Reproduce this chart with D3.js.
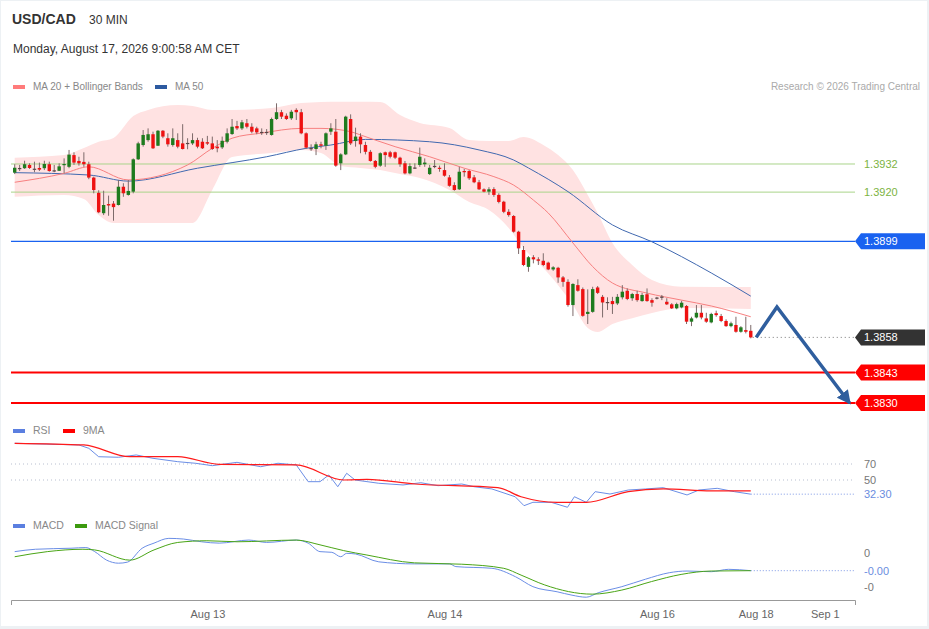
<!DOCTYPE html>
<html>
<head>
<meta charset="utf-8">
<script src="https://cdn.jsdelivr.net/npm/d3@7"></script>
<style>
  html, body { margin: 0; padding: 0; background: #edf1f4; }
  svg { display: block; font-family: "Liberation Sans", Arial, sans-serif; }
</style>
</head>
<body>
<svg id="chart" width="929" height="629"></svg>
<script>
// ---- data ----
var symbol = "USD/CAD", period = "30 MIN";
var stamp = "Monday, August 17, 2026 9:00:58 AM CET";
var credit = "Research \u00a9 2026 Trading Central";

// 30 min candles: [open, high, low, close]
var candles = [
  [1.39283,1.39319,1.39277,1.39304],[1.39303,1.39316,1.39290,1.39301],[1.39302,1.39334,1.39299,1.39319],
  [1.39316,1.39323,1.39299,1.39303],[1.39300,1.39330,1.39285,1.39297],[1.39303,1.39326,1.39290,1.39296],
  [1.39302,1.39334,1.39294,1.39320],[1.39319,1.39330,1.39287,1.39290],[1.39293,1.39316,1.39285,1.39291],
  [1.39291,1.39323,1.39290,1.39310],[1.39316,1.39344,1.39280,1.39320],[1.39308,1.39380,1.39302,1.39360],
  [1.39358,1.39370,1.39316,1.39326],[1.39333,1.39351,1.39313,1.39323],[1.39329,1.39370,1.39308,1.39319],
  [1.39319,1.39330,1.39255,1.39262],[1.39262,1.39266,1.39195,1.39209],[1.39197,1.39208,1.39110,1.39114],
  [1.39110,1.39206,1.39102,1.39145],[1.39149,1.39185,1.39099,1.39143],[1.39151,1.39162,1.39078,1.39136],
  [1.39145,1.39252,1.39143,1.39223],[1.39223,1.39238,1.39180,1.39195],[1.39188,1.39252,1.39185,1.39205],
  [1.39202,1.39344,1.39195,1.39340],[1.39340,1.39415,1.39337,1.39408],[1.39401,1.39465,1.39394,1.39444],
  [1.39422,1.39472,1.39415,1.39447],[1.39447,1.39458,1.39384,1.39387],[1.39398,1.39465,1.39397,1.39462],
  [1.39462,1.39465,1.39430,1.39437],[1.39430,1.39451,1.39394,1.39404],[1.39401,1.39472,1.39394,1.39430],
  [1.39422,1.39451,1.39387,1.39394],[1.39408,1.39490,1.39382,1.39384],[1.39410,1.39430,1.39383,1.39407],
  [1.39408,1.39451,1.39401,1.39422],[1.39422,1.39432,1.39387,1.39394],[1.39415,1.39430,1.39384,1.39387],
  [1.39413,1.39440,1.39401,1.39407],[1.39408,1.39437,1.39380,1.39384],[1.39394,1.39422,1.39370,1.39387],
  [1.39391,1.39437,1.39384,1.39419],[1.39415,1.39472,1.39408,1.39451],[1.39448,1.39512,1.39444,1.39479],
  [1.39482,1.39504,1.39465,1.39472],[1.39472,1.39508,1.39465,1.39498],[1.39494,1.39512,1.39472,1.39479],
  [1.39479,1.39494,1.39451,1.39458],[1.39472,1.39479,1.39447,1.39455],[1.39457,1.39472,1.39444,1.39454],
  [1.39455,1.39469,1.39444,1.39457],[1.39444,1.39518,1.39441,1.39512],[1.39512,1.39579,1.39508,1.39541],
  [1.39541,1.39551,1.39512,1.39522],[1.39526,1.39536,1.39508,1.39512],[1.39515,1.39551,1.39508,1.39543],
  [1.39551,1.39558,1.39508,1.39541],[1.39541,1.39555,1.39447,1.39451],[1.39451,1.39455,1.39384,1.39390],
  [1.39388,1.39404,1.39376,1.39386],[1.39384,1.39415,1.39358,1.39404],[1.39404,1.39415,1.39387,1.39398],
  [1.39398,1.39455,1.39380,1.39451],[1.39458,1.39494,1.39444,1.39472],[1.39458,1.39512,1.39308,1.39313],
  [1.39323,1.39366,1.39294,1.39361],[1.39361,1.39526,1.39358,1.39522],[1.39512,1.39532,1.39401,1.39408],
  [1.39418,1.39475,1.39394,1.39437],[1.39437,1.39451,1.39366,1.39404],[1.39401,1.39415,1.39361,1.39372],
  [1.39372,1.39380,1.39330,1.39333],[1.39333,1.39337,1.39302,1.39308],[1.39313,1.39370,1.39308,1.39366],
  [1.39370,1.39373,1.39308,1.39358],[1.39370,1.39376,1.39344,1.39351],[1.39370,1.39373,1.39341,1.39347],
  [1.39347,1.39351,1.39308,1.39319],[1.39323,1.39333,1.39276,1.39280],[1.39280,1.39323,1.39276,1.39311],
  [1.39305,1.39323,1.39299,1.39303],[1.39316,1.39390,1.39308,1.39351],[1.39319,1.39344,1.39308,1.39326],
  [1.39277,1.39316,1.39273,1.39304],[1.39312,1.39337,1.39302,1.39311],[1.39304,1.39313,1.39287,1.39299],
  [1.39294,1.39323,1.39266,1.39270],[1.39263,1.39273,1.39223,1.39227],[1.39230,1.39242,1.39206,1.39209],
  [1.39212,1.39308,1.39209,1.39287],[1.39290,1.39299,1.39266,1.39285],[1.39290,1.39294,1.39252,1.39259],
  [1.39263,1.39273,1.39238,1.39242],[1.39242,1.39252,1.39209,1.39212],[1.39212,1.39216,1.39199,1.39202],
  [1.39202,1.39221,1.39188,1.39212],[1.39213,1.39221,1.39180,1.39188],[1.39188,1.39195,1.39152,1.39158],
  [1.39159,1.39163,1.39110,1.39116],[1.39116,1.39127,1.39095,1.39102],[1.39098,1.39102,1.39027,1.39031],
  [1.39031,1.39035,1.38936,1.38960],[1.38953,1.38970,1.38884,1.38889],[1.38881,1.38927,1.38860,1.38922],
  [1.38922,1.38931,1.38896,1.38913],[1.38913,1.38922,1.38889,1.38907],[1.38907,1.38939,1.38884,1.38889],
  [1.38899,1.38903,1.38867,1.38870],[1.38870,1.38884,1.38864,1.38879],[1.38877,1.38881,1.38813,1.38836],
  [1.38836,1.38842,1.38796,1.38817],[1.38817,1.38828,1.38711,1.38718],[1.38718,1.38811,1.38671,1.38808],
  [1.38803,1.38828,1.38775,1.38779],[1.38786,1.38793,1.38668,1.38672],[1.38680,1.38785,1.38637,1.38689],
  [1.38689,1.38796,1.38685,1.38786],[1.38793,1.38799,1.38765,1.38770],[1.38753,1.38761,1.38665,1.38729],
  [1.38731,1.38751,1.38697,1.38728],[1.38735,1.38753,1.38680,1.38722],[1.38725,1.38765,1.38718,1.38753],
  [1.38751,1.38803,1.38742,1.38775],[1.38779,1.38789,1.38739,1.38744],[1.38747,1.38770,1.38736,1.38765],
  [1.38765,1.38779,1.38732,1.38739],[1.38735,1.38770,1.38732,1.38761],[1.38764,1.38789,1.38732,1.38735],
  [1.38739,1.38747,1.38711,1.38728],[1.38750,1.38753,1.38742,1.38748],[1.38754,1.38761,1.38739,1.38753],
  [1.38732,1.38747,1.38718,1.38721],[1.38721,1.38726,1.38701,1.38704],[1.38704,1.38728,1.38700,1.38722],
  [1.38708,1.38736,1.38704,1.38728],[1.38714,1.38718,1.38637,1.38647],[1.38647,1.38668,1.38628,1.38661],
  [1.38665,1.38718,1.38661,1.38685],[1.38685,1.38718,1.38657,1.38665],[1.38661,1.38685,1.38642,1.38647],
  [1.38644,1.38685,1.38640,1.38680],[1.38683,1.38694,1.38668,1.38675],[1.38671,1.38680,1.38645,1.38650],
  [1.38650,1.38657,1.38625,1.38628],[1.38628,1.38647,1.38623,1.38640],[1.38633,1.38668,1.38600,1.38604],
  [1.38604,1.38628,1.38600,1.38623],[1.38611,1.38668,1.38597,1.38604],[1.38608,1.38633,1.38576,1.38580]
];

// indicator readings, [candle index, value]
var bbUpper = [[0,1.39347],[10,1.39358],[14,1.39388],[17,1.39415],[20,1.39431],[24,1.39525],[27,1.39551],
  [33,1.39572],[36,1.39568],[40,1.39551],[44,1.39551],[52,1.39559],[58,1.39580],[62,1.39585],[66,1.39586],
  [70,1.39586],[74,1.39585],[78,1.39529],[82,1.39495],[88,1.39474],[92,1.39422],[96,1.39418],[100,1.39418],
  [103,1.39435],[107,1.39401],[110,1.39358],[113,1.39294],[116,1.39188],[118,1.39111],[121,1.38983],
  [125,1.38889],[129,1.38825],[135,1.38796],[149,1.38795]];
var bbLower = [[0,1.39180],[10,1.39188],[14,1.39171],[17,1.39102],[20,1.39068],[24,1.39068],[27,1.39068],
  [33,1.39068],[36,1.39068],[40,1.39209],[44,1.39350],[52,1.39367],[58,1.39380],[62,1.39367],[66,1.39311],
  [70,1.39303],[74,1.39294],[78,1.39277],[82,1.39260],[88,1.39209],[92,1.39158],[96,1.39124],[100,1.39047],
  [103,1.38961],[107,1.38876],[110,1.38803],[113,1.38718],[116,1.38620],[118,1.38603],[121,1.38637],
  [125,1.38662],[129,1.38684],[135,1.38705],[149,1.38701]];
var ma20 = [[0,1.39242],[10,1.39280],[15,1.39308],[23,1.39252],[35,1.39316],[40,1.39387],[44,1.39430],
  [50,1.39452],[58,1.39472],[62,1.39472],[68,1.39458],[70,1.39444],[77,1.39394],[84,1.39351],[91,1.39302],
  [97,1.39266],[101,1.39230],[105,1.39166],[108,1.39111],[113,1.38983],[117,1.38882],[121,1.38812],
  [128,1.38769],[135,1.38739],[141,1.38714],[149,1.38668]];
var ma50 = [[0,1.39283],[15,1.39273],[23,1.39247],[37,1.39302],[51,1.39351],[59,1.39387],[64,1.39401],
  [71,1.39425],[84,1.39415],[94,1.39380],[101,1.39337],[104,1.39303],[112,1.39202],[121,1.39060],
  [129,1.38988],[141,1.38855],[149,1.38756]];

// key levels and forecast path
var levelValues = [1.3932, 1.3920, 1.3899, 1.3858, 1.3843, 1.3830];
var levelKinds  = ["resistance", "resistance", "pivot", "last", "support", "support"];
var forecast = [[150.1, 1.3858], [154.3, 1.3871], [169, 1.3830]];

// RSI panel
var rsi = [[0,95.9],[13,93.8],[15,89.6],[17,79.1],[21,78.4],[24.6,81.3],[28,77.1],[33,72.9],[36.6,70.9],
  [40,67.9],[45,72.1],[49.8,66.6],[53.3,70.9],[57,68.8],[59.4,47.9],[61.8,47.9],[63.6,56.3],[65.4,41.6],
  [67.2,58.4],[68.9,50],[73.7,45.9],[78.6,43.8],[82.2,46.6],[85.7,42.9],[90.5,45],[93,41.6],[96.6,38.8],
  [101.3,29.1],[103.1,17.9],[104.9,22.1],[108.6,22.1],[111.9,15.9],[113.3,29.1],[115.7,22.1],[117.5,35.4],
  [120.5,32.5],[124.2,37.5],[127.7,38.8],[131.3,40.4],[136.1,31.3],[138.5,37.5],[142.2,39.6],[145.7,35.4],
  [149,32.3]];
var rsiMa = [[0,95.9],[14,93.8],[23.3,79.1],[33,79.1],[41.4,69.6],[57,68.8],[66.6,50],[71.3,50.9],[81,45],
  [97.8,40.4],[102.5,29.1],[109.8,22.1],[115.7,22.1],[124.2,35.4],[131.3,38.8],[141,36.3],[149,36.3]];
var rsiGuides = [70, 50];
var rsiLast = 32.30;

// MACD panel
var macd = [[0,0.00054],[4.2,0.00061],[11.4,0.00064],[14.4,0.00066],[16.2,0.00054],[18.6,0.00029],
  [21,0.00020],[22.8,0.00023],[25.8,0.00064],[28.2,0.00079],[31.2,0.00093],[34.2,0.00091],[37.8,0.00083],
  [41.4,0.00079],[47.4,0.00088],[51,0.00081],[57,0.00088],[59.4,0.00079],[61.8,0.00054],[64.2,0.00052],
  [66,0.00039],[67.2,0.00049],[69,0.00047],[73.7,0.00024],[80.9,0.00018],[88,0.00018],[89.3,0.00010],
  [96.6,0.00005],[101.4,-0.00020],[104.9,-0.00049],[109.8,-0.00064],[112.8,-0.00074],[115.7,-0.00080],
  [118.1,-0.00067],[122.9,-0.00049],[127.7,-0.00027],[132.5,-0.00008],[136.1,-0.00003],[141,-0.00005],
  [144.5,0.00002],[149,-0.00002]];
var macdSignal = [[0,0.00039],[6.6,0.00054],[13.8,0.00061],[16.2,0.00059],[23.3,0.00029],[28.2,0.00059],
  [33,0.00081],[38.9,0.00086],[45,0.00083],[57,0.00088],[61.8,0.00074],[66.6,0.00057],[71.3,0.00044],
  [80.9,0.00021],[90.5,0.00017],[99,0.00005],[102.5,-0.00015],[107.3,-0.00044],[116.9,-0.00071],
  [122.9,-0.00059],[128.9,-0.00034],[134.9,-0.00013],[141,-0.00003],[149,-0.00002]];
var macdTicks = [0.0005, -0.0005];
var macdTickLabels = ["0", "-0"];
var macdLastLabel = "-0.00";

// time axis
var xTickIndex = [39, 87, 130, 150, 164];
var xTickLabels = ["Aug 13", "Aug 14", "Aug 16", "Aug 18", "Sep 1"];

// ---- drawing ----
var svg = d3.select('#chart');
var right = 855;

svg.append('rect').attr('x', 1).attr('y', 1).attr('width', 926).attr('height', 625).attr('fill', '#fff');

var x = d3.scaleLinear().domain([-0.75, 170.1]).range([11, right]);
var y = d3.scaleLinear().domain([1.382487, 1.396145]).range([415, 95]);
var yR = d3.scaleLinear().domain([12.5, 106.25]).range([510, 435]);
var yM = d3.scaleLinear().domain([-0.001176, 0.001029]).range([610, 535]);
var fmt4 = d3.format('.4f');

// header
svg.append('text').attr('x', 12).attr('y', 24).attr('font-size', 14).attr('font-weight', 'bold')
  .attr('fill', '#333').text(symbol);
svg.append('text').attr('x', 89).attr('y', 24).attr('font-size', 12).attr('fill', '#333').text(period);
svg.append('text').attr('x', 13).attr('y', 53).attr('font-size', 12).attr('fill', '#333').text(stamp);

function legend(items, ly, fs) {
  var g = svg.append('g');
  items.forEach(function (it) {
    g.append('rect').attr('x', it[0]).attr('y', ly - 5).attr('width', 12).attr('height', 4).attr('fill', it[2]);
    g.append('text').attr('x', it[0] + 20).attr('y', ly).attr('font-size', fs).attr('fill', '#888').text(it[1]);
  });
}
legend([[13, 'MA 20 + Bollinger Bands', '#ff7b7b'], [155, 'MA 50', '#2d5aa0']], 90, 10);
svg.append('text').attr('x', 920).attr('y', 90).attr('text-anchor', 'end').attr('font-size', 10)
  .attr('fill', '#aaa').text(credit);

// Bollinger band + moving averages
var band = bbUpper.map(function (d, i) { return [d[0], d[1], bbLower[i][1]]; });
svg.append('path').datum(band)
  .attr('fill', '#ffe2e2')
  .attr('d', d3.area().curve(d3.curveMonotoneX)
    .x(function (d) { return x(d[0]); })
    .y0(function (d) { return y(d[2]); })
    .y1(function (d) { return y(d[1]); }));

var line = function (ys) {
  return d3.line().curve(d3.curveMonotoneX)
    .x(function (d) { return x(d[0]); })
    .y(function (d) { return ys(d[1]); });
};

// level lines (behind candles)
levelValues.forEach(function (v, i) {
  var k = levelKinds[i];
  if (k === 'last') {
    svg.append('line').attr('x1', x(candles.length - 0.6)).attr('x2', right)
      .attr('y1', y(v)).attr('y2', y(v))
      .attr('stroke', '#777').attr('stroke-width', 1).attr('stroke-dasharray', '1,3');
    return;
  }
  var col = k === 'resistance' ? '#a9d48a' : k === 'pivot' ? '#1a62f0' : '#ff0000';
  var w = k === 'support' ? 2 : (k === 'pivot' ? 1.2 : 1);
  svg.append('line').attr('x1', 11).attr('x2', right).attr('y1', y(v)).attr('y2', y(v))
    .attr('stroke', col).attr('stroke-width', w);
});

svg.append('path').datum(ma50).attr('fill', 'none').attr('stroke', '#4169b0').attr('stroke-width', 1)
  .attr('d', line(y));
svg.append('path').datum(ma20).attr('fill', 'none').attr('stroke', '#f78080').attr('stroke-width', 1)
  .attr('d', line(y));

// candles
var cg = svg.append('g');
cg.selectAll('line.wick').data(candles).enter().append('line')
  .attr('x1', function (d, i) { return x(i); })
  .attr('x2', function (d, i) { return x(i); })
  .attr('y1', function (d) { return y(d[1]); })
  .attr('y2', function (d) { return y(d[2]); })
  .attr('stroke', '#7d6a6a').attr('stroke-width', 1);
cg.selectAll('rect.body').data(candles).enter().append('rect')
  .attr('x', function (d, i) { return x(i) - 1.7; })
  .attr('width', 3.4)
  .attr('y', function (d) { return y(Math.max(d[0], d[3])); })
  .attr('height', function (d) { return Math.max(1.2, Math.abs(y(d[0]) - y(d[3]))); })
  .attr('fill', function (d) {
    if (Math.abs(d[0] - d[3]) < 0.00004) return '#5a4646';
    return d[3] > d[0] ? '#1e7b1e' : '#ee1111';
  });

// forecast arrow
svg.append('defs').append('marker').attr('id', 'head')
  .attr('markerUnits', 'userSpaceOnUse').attr('viewBox', '0 -7 14 14')
  .attr('markerWidth', 14).attr('markerHeight', 14).attr('refX', 12).attr('refY', 0)
  .attr('orient', 'auto')
  .append('path').attr('d', 'M0,-7L14,0L0,7Z').attr('fill', '#2f5e9e');
svg.append('path').datum(forecast).attr('fill', 'none').attr('stroke', '#2f5e9e')
  .attr('stroke-width', 3.5).attr('stroke-linejoin', 'miter').attr('marker-end', 'url(#head)')
  .attr('d', d3.line().x(function (d) { return x(d[0]); }).y(function (d) { return y(d[1]); }));

// level labels
levelValues.forEach(function (v, i) {
  var k = levelKinds[i], yy = y(v);
  if (k === 'resistance') {
    svg.append('text').attr('x', 864).attr('y', yy + 4).attr('font-size', 11).attr('fill', '#7cb342')
      .text(fmt4(v));
    return;
  }
  var col = k === 'pivot' ? '#1a62f0' : k === 'last' ? '#333' : '#ff0000';
  svg.append('path')
    .attr('d', 'M' + right + ',' + yy + 'L' + (right + 6) + ',' + (yy - 8) + 'H925V' + (yy + 8) + 'H' + (right + 6) + 'Z')
    .attr('fill', col);
  svg.append('text').attr('x', 864).attr('y', yy + 4).attr('font-size', 11).attr('fill', '#fff')
    .text(fmt4(v));
});

// RSI panel
legend([[13, 'RSI', '#5b7fe0'], [63, '9MA', '#ff0000']], 434, 10.5);
rsiGuides.forEach(function (v) {
  svg.append('line').attr('x1', 11).attr('x2', right).attr('y1', yR(v)).attr('y2', yR(v))
    .attr('stroke', '#b8bfd0').attr('stroke-width', 1).attr('stroke-dasharray', '1,3');
  svg.append('text').attr('x', 864).attr('y', yR(v) + 4).attr('font-size', 11).attr('fill', '#777').text(v);
});
svg.append('line').attr('x1', x(candles.length - 1)).attr('x2', right).attr('y1', yR(rsiLast)).attr('y2', yR(rsiLast))
  .attr('stroke', '#7d98e6').attr('stroke-width', 1).attr('stroke-dasharray', '1,2');
svg.append('text').attr('x', 864).attr('y', yR(rsiLast) + 4).attr('font-size', 11).attr('fill', '#6a8de0')
  .text(d3.format('.2f')(rsiLast));
svg.append('path').datum(rsi).attr('fill', 'none').attr('stroke', '#6b8ee6').attr('stroke-width', 1)
  .attr('d', d3.line().x(function (d) { return x(d[0]); }).y(function (d) { return yR(d[1]); }));
svg.append('path').datum(rsiMa).attr('fill', 'none').attr('stroke', '#ff1a1a').attr('stroke-width', 1.2)
  .attr('d', line(yR));

// MACD panel
legend([[13, 'MACD', '#5b7fe0'], [75, 'MACD Signal', '#3c9a0f']], 529, 10.5);
macdTicks.forEach(function (v, i) {
  svg.append('text').attr('x', 864).attr('y', yM(v) + 4).attr('font-size', 11).attr('fill', '#777')
    .text(macdTickLabels[i]);
});
var mLast = macd[macd.length - 1][1];
svg.append('line').attr('x1', x(candles.length - 1)).attr('x2', right).attr('y1', yM(mLast)).attr('y2', yM(mLast))
  .attr('stroke', '#7d98e6').attr('stroke-width', 1).attr('stroke-dasharray', '1,2');
svg.append('text').attr('x', 864).attr('y', yM(mLast) + 4).attr('font-size', 11).attr('fill', '#6a8de0')
  .text(macdLastLabel);
svg.append('path').datum(macd).attr('fill', 'none').attr('stroke', '#6b8ee6').attr('stroke-width', 1)
  .attr('d', d3.line().curve(d3.curveMonotoneX).x(function (d) { return x(d[0]); }).y(function (d) { return yM(d[1]); }));
svg.append('path').datum(macdSignal).attr('fill', 'none').attr('stroke', '#4aa516').attr('stroke-width', 1)
  .attr('d', line(yM));

// time axis
var ax = svg.append('g').attr('transform', 'translate(0,600)')
  .call(d3.axisBottom(x).tickValues(xTickIndex)
    .tickFormat(function (d, i) { return xTickLabels[i]; })
    .tickSizeInner(0).tickSizeOuter(5).tickPadding(10));
ax.select('.domain').attr('stroke', '#999');
ax.selectAll('text').attr('fill', '#666').attr('font-size', 11)
  .attr('font-family', '"Liberation Sans", Arial, sans-serif');
</script>
</body>
</html>
